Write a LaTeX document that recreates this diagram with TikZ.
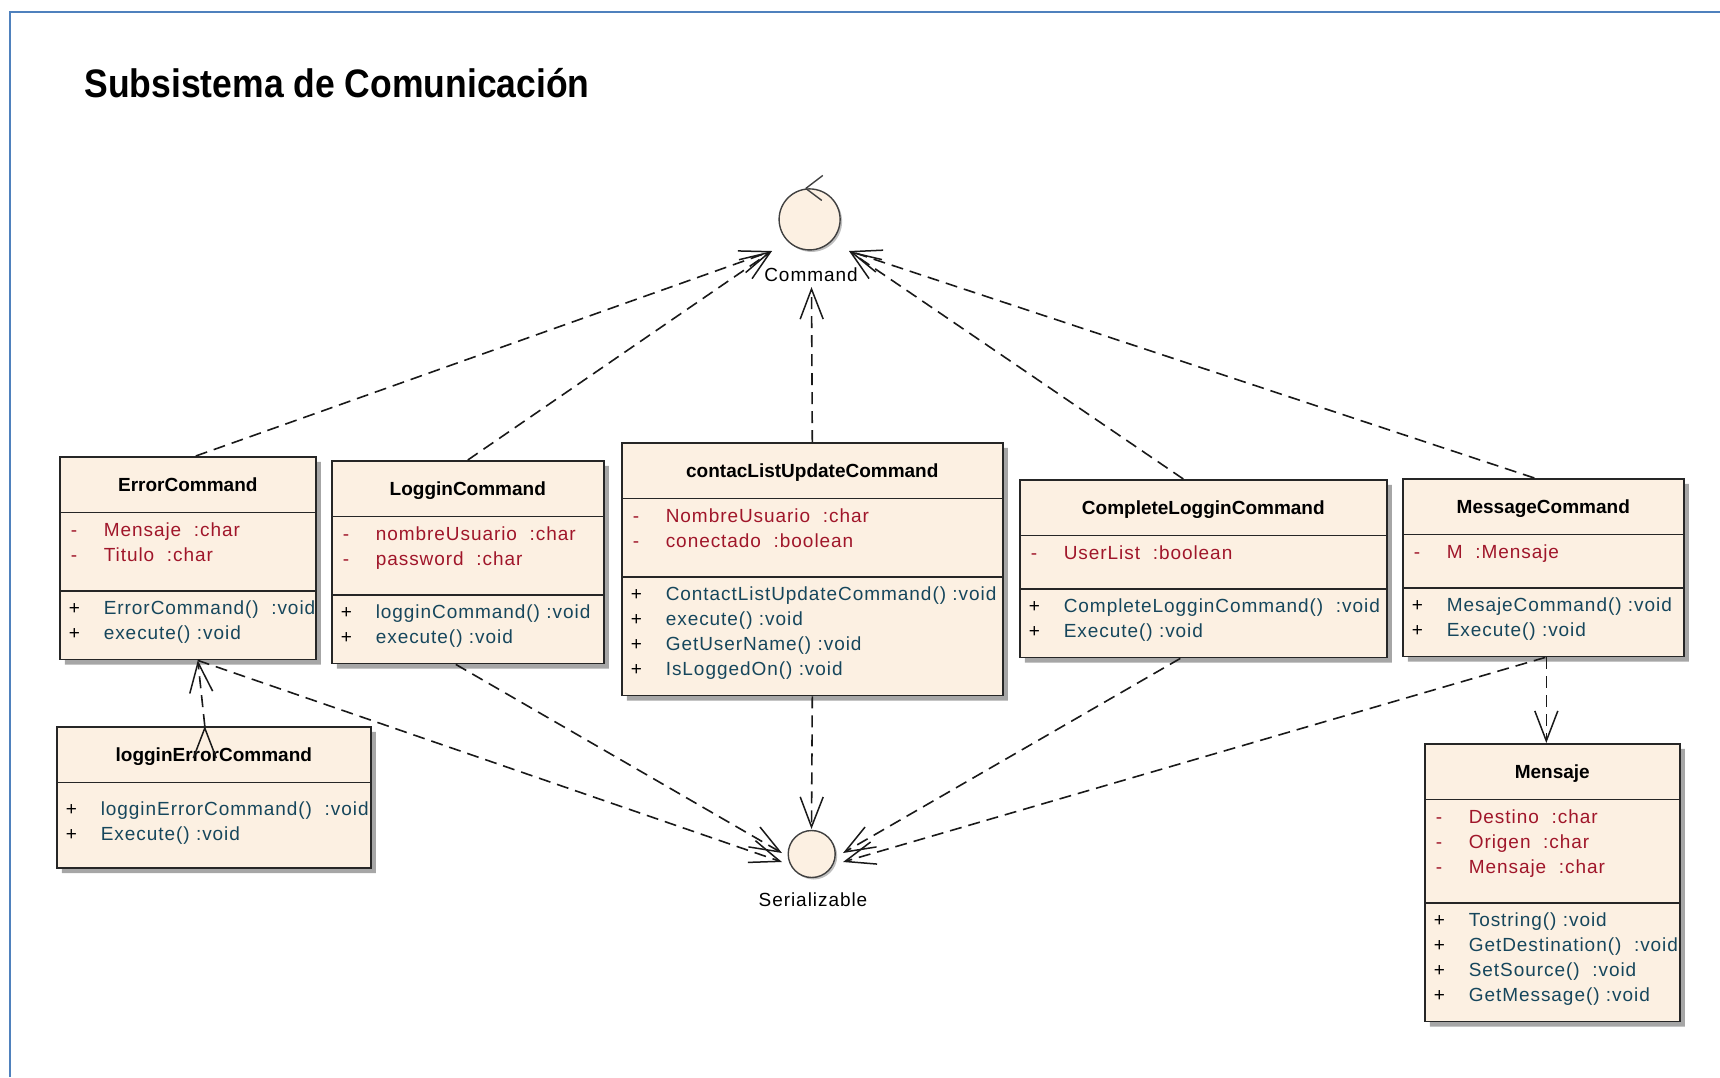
\documentclass[tikz,border=0pt]{standalone}
\usepackage{fontspec}
\setmainfont{Liberation Sans}
\newfontfamily\rowfont[LetterSpace=5]{Liberation Sans}
\usetikzlibrary{arrows.meta,shapes.multipart,shadows}
\definecolor{framecol}{RGB}{79,129,189}
\definecolor{classfill}{RGB}{252,240,226}
\definecolor{attrcol}{RGB}{160,22,42}
\definecolor{opcol}{RGB}{22,70,92}
\newcommand\classname[1]{\rule[-20pt]{0pt}{54pt}\hfill\textbf{#1}\hfill\null}
\newcommand\attrrow[1]{\mbox{\rowfont\makebox[44pt][l]{\hspace{11pt}\textcolor{attrcol}{-}}\textcolor{attrcol}{#1}}}
\newcommand\oprow[1]{\mbox{\rowfont\makebox[44pt][l]{\hspace{9pt}+}\textcolor{opcol}{#1}}}
\newcommand\firstrow[1][23pt]{\rule{0pt}{#1}}
\newcommand\lastrow[1]{\rule[-#1]{0pt}{#1}}
\tikzset{
  umlclass/.style={draw=black!85, line width=1.6pt, fill=classfill,
      rectangle split, rectangle split parts=3, anchor=north west,
      text width=#1, inner xsep=0pt, inner ysep=0pt, align=left,
      drop shadow={shadow xshift=5pt, shadow yshift=-5pt, fill=black!35, opacity=1}},
  iface/.style={draw=black!75, line width=1.4pt, fill=classfill, circle,
      inner sep=0pt, minimum size=#1,
      drop shadow={shadow xshift=2pt, shadow yshift=-2pt, fill=black!25, opacity=1}},
  dep/.style={draw=black!90, line width=1.6pt, dash pattern=on 12pt off 7pt,
      -{Straight Barb[length=30pt, width=23pt, line width=1.5pt]}}
}

\begin{document}
\begin{tikzpicture}[x=1pt, y=-1pt, font=\fontsize{19}{25}\selectfont]
    \useasboundingbox (0,0) rectangle (1720,1077);
    \draw[framecol, line width=2pt] (10,1077) -- (10,12) -- (1720,12);
    \node[anchor=base west] (title) at (81,97)
      {\scalebox{1}[1.12]{\fontsize{35.5}{40}\selectfont\bfseries Subsistema de Comunicación}};

    % interfaces
    \node[iface=61pt] (cmd) at (809.6,219.4) {};
    \node[anchor=base] (cmdlabel) at (811,281) {\rowfont Command};
    \draw[black!75, line width=1.4pt] (cmd.97) -- ++(17,-13) (cmd.97) -- ++(16,12);
    \node[iface=47pt] (ser) at (811.7,854) {};
    \node[anchor=base] (serlabel) at (813,906) {\rowfont Serializable};

    % classes
    \node[umlclass=256pt] (err) at (59,456) {\classname{ErrorCommand}
      \nodepart{two}\firstrow\attrrow{Mensaje\ \ :char}\\
        \attrrow{Titulo\ \ :char}\lastrow{29pt}
      \nodepart{three}\firstrow\oprow{ErrorCommand()\ \ :void}\\
        \oprow{execute()\ :void}\lastrow{19pt}};
    \node[umlclass=272pt] (loggin) at (331,460) {\classname{LogginCommand}
      \nodepart{two}\firstrow\attrrow{nombreUsuario\ \ :char}\\
        \attrrow{password\ \ :char}\lastrow{29pt}
      \nodepart{three}\firstrow\oprow{logginCommand()\ :void}\\
        \oprow{execute()\ :void}\lastrow{19pt}};
    \node[umlclass=381pt] (contac) at (621,442) {\classname{contacListUpdateCommand}
      \nodepart{two}\firstrow\attrrow{NombreUsuario\ \ :char}\\
        \attrrow{conectado\ \ :boolean}\lastrow{29pt}
      \nodepart{three}\firstrow\oprow{ContactListUpdateCommand()\ :void}\\
        \oprow{execute()\ :void}\\
        \oprow{GetUserName()\ :void}\\
        \oprow{IsLoggedOn()\ :void}\lastrow{19pt}};
    \node[umlclass=367pt] (complete) at (1019,479) {\classname{CompleteLogginCommand}
      \nodepart{two}\firstrow\attrrow{UserList\ \ :boolean}\lastrow{29pt}
      \nodepart{three}\firstrow\oprow{CompleteLogginCommand()\ \ :void}\\
        \oprow{Execute()\ :void}\lastrow{19pt}};
    \node[umlclass=281pt] (message) at (1402,478) {\classname{MessageCommand}
      \nodepart{two}\firstrow\attrrow{M\ \ :Mensaje}\lastrow{29pt}
      \nodepart{three}\firstrow\oprow{MesajeCommand()\ :void}\\
        \oprow{Execute()\ :void}\lastrow{19pt}};
    \node[umlclass=314pt, rectangle split parts=2] (logginerr) at (56,726) {\classname{logginErrorCommand}
      \nodepart{two}\firstrow[32pt]\oprow{logginErrorCommand()\ \ :void}\\
        \oprow{Execute()\ :void}\lastrow{27pt}};
    \node[umlclass=255pt] (mensaje) at (1424,743) {\classname{Mensaje}
      \nodepart{two}\firstrow\attrrow{Destino\ \ :char}\\
        \attrrow{Origen\ \ :char}\\
        \attrrow{Mensaje\ \ :char}\lastrow{29pt}
      \nodepart{three}\firstrow\oprow{Tostring()\ :void}\\
        \oprow{GetDestination()\ \ :void}\\
        \oprow{SetSource()\ \ :void}\\
        \oprow{GetMessage()\ :void}\lastrow{19pt}};

    % free ends of the arrows
    \coordinate (cmdL) at (772,251);
    \coordinate (cmdB) at (811.5,287);
    \coordinate (cmdR) at (849,251);
    \coordinate (serL) at (782,853);
    \coordinate (serLL) at (782,862);
    \coordinate (serT) at (811.5,829);
    \coordinate (serR) at (843,853);
    \coordinate (serRR) at (843,862);

    \path[dep]
    ([xshift=8pt]err.north) edge (cmdL)
    (loggin.north) edge (cmdL)
    (contac.north) edge (cmdB)
    ([xshift=-20pt]complete.north) edge (cmdR)
    ([xshift=-9pt]message.north) edge (cmdR)
    ([xshift=10pt]err.south) edge (serLL)
    ([xshift=-12pt]loggin.south) edge (serL)
    (contac.south) edge (serT)
    ([xshift=-23pt]complete.south) edge (serR)
    ([xshift=2pt]message.south) edge (serRR)
    ([xshift=3pt]message.south) edge ([xshift=-6pt]mensaje.north)
    ([xshift=-9pt]logginerr.north) edge ([xshift=10pt]err.south)
    ;
\end{tikzpicture}
\end{document}
